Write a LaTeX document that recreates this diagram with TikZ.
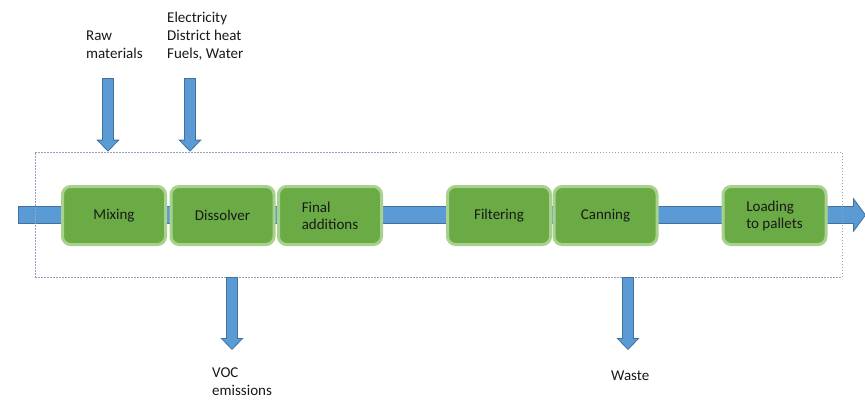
\documentclass[tikz,border=0pt]{standalone}
\usepackage{fontspec}
\setmainfont{Carlito}
\usepackage{tikz}
\usetikzlibrary{arrows.meta}

\begin{document}
\begin{tikzpicture}[x=1pt,y=-1pt,
    stage/.style={draw=boxrim,fill=boxgreen,line width=3pt,rounded corners=8pt,minimum width=103pt,minimum height=58pt,align=left,text=black!90,font=\fontsize{15}{17}\selectfont},
    note/.style={anchor=base west,align=left,inner sep=0pt,text=black!90,font=\fontsize{15}{18}\selectfont},
    dotframe/.style={draw=framegray,line width=0.6pt,dash pattern=on 1.5pt off 1.5pt},
    feed/.style={draw=flowrim,line width=11.6pt,-{Triangle[width=23pt,length=12pt,line width=0.8pt,fill=flowblue]},
        postaction={draw=flowblue,-,line width=10pt,shorten >=11pt,shorten <=0.8pt}},
    mainflow/.style={draw=flowrim,line width=17.4pt,-{Triangle[width=35pt,length=13pt,line width=0.8pt,fill=flowblue]},
        postaction={draw=flowblue,-,line width=15.8pt,shorten >=12pt,shorten <=0.8pt}}]
                \definecolor{boxgreen}{HTML}{6AAB45}
                \definecolor{boxrim}{HTML}{A9D18E}
                \definecolor{flowblue}{HTML}{5B9BD5}
                \definecolor{flowrim}{HTML}{41719C}
                \definecolor{framegray}{HTML}{8EA4C0}
                \path[fill=white,use as bounding box] (0,0) rectangle (865,400);
                \coordinate (src) at (18,215);
                \coordinate (sink) at (866,215);
                \draw[mainflow] (src) -- (sink);
                \node[dotframe,minimum width=807pt,minimum height=125pt] (frame) at (438.5,214.5) {};
                \foreach \name/\x/\txt in {mix/114/Mixing,diss/222.5/Dissolver,final/330/{Final\\additions},filt/499/Filtering,can/605.5/Canning,load/774.5/{Loading\\to pallets}}{
                \node[stage] (\name) at (\x,215.5) {\txt};
                }
                \node[note] (raw) at (86,58) {Raw\\materials};
                \node[note] (utility) at (167,58) {Electricity\\District heat\\Fuels, Water};
                \node[note] (voc) at (212,395) {VOC\\emissions};
                \node[note] (waste) at (611,380) {Waste};
                \coordinate (rawtop) at (108,78);
                \coordinate (utilitytop) at (190,78);
                \coordinate (vocend) at (232,350);
                \coordinate (wasteend) at (628,350);
                \draw[feed] (rawtop) -- (rawtop |- frame.north);
                \draw[feed] (utilitytop) -- (utilitytop |- frame.north);
                \draw[feed] (vocend |- frame.south) -- (vocend);
                \draw[feed] (wasteend |- frame.south) -- (wasteend);
            \end{tikzpicture}
\end{document}
